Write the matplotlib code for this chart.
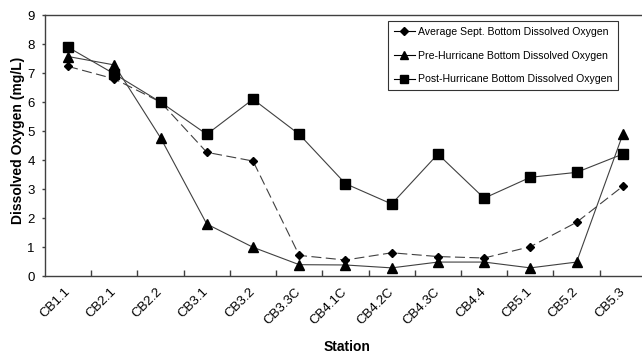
import matplotlib
matplotlib.use("Agg")
from matplotlib import pyplot as plt
from matplotlib.lines import Line2D

stations = ["CB1.1", "CB2.1", "CB2.2", "CB3.1", "CB3.2", "CB3.3C", "CB4.1C",
            "CB4.2C", "CB4.3C", "CB4.4", "CB5.1", "CB5.2", "CB5.3"]
avgSept = [7.23, 6.80, 6.0, 4.27, 3.97, 0.72, 0.56, 0.81, 0.68, 0.63, 1.02, 1.86, 3.10]
preHurricane = [7.57, 7.28, 4.77, 1.80, 1.0, 0.40, 0.39, 0.29, 0.49, 0.49, 0.29, 0.49, 4.89]
postHurricane = [7.89, 6.97, 6.0, 4.89, 6.10, 4.89, 3.19, 2.49, 4.21, 2.69, 3.41, 3.58, 4.21]
labels = ["Average Sept. Bottom Dissolved Oxygen",
          "Pre-Hurricane Bottom Dissolved Oxygen",
          "Post-Hurricane Bottom Dissolved Oxygen"]

plt.rcParams['font.family'] = ['Liberation Sans', 'DejaVu Sans']

fig = plt.figure(figsize=(6.42, 3.54), dpi=100)
ax = fig.add_axes([0.0701, 0.2195, 0.936, 0.7381])

lineColor = '#404040'
x = list(range(len(stations)))
ax.plot(x, avgSept, color=lineColor, lw=0.8, dashes=(9, 4),
        marker='D', ms=4.5, mfc='black', mec='black')
ax.plot(x, preHurricane, color=lineColor, lw=0.8,
        marker='^', ms=6.5, mfc='black', mec='black')
ax.plot(x, postHurricane, color=lineColor, lw=0.8,
        marker='s', ms=7, mfc='black', mec='black')

ax.set_xlim(-0.5, len(stations) - 0.5)
ax.set_ylim(0, 9)
ax.set_yticks(range(0, 10))
# tick marks sit between categories, labels under the points
ax.set_xticks([i + 0.5 for i in range(len(stations))])
ax.set_xticklabels([])
ax.set_xticks(x, minor=True)
ax.set_xticklabels(stations, minor=True, rotation=45, ha='right', va='center',
                   rotation_mode='anchor', fontsize=9.5)
ax.tick_params(axis='x', which='major', direction='in', length=4,
               color=lineColor, width=1)
ax.tick_params(axis='x', which='minor', length=0, pad=10)
ax.tick_params(axis='y', direction='out', length=2.5, color=lineColor,
               width=1, labelsize=9.5, pad=5)

for side in ['left', 'bottom', 'top']:
    ax.spines[side].set_color(lineColor)
    ax.spines[side].set_linewidth(1)
ax.spines['right'].set_visible(False)

ax.set_ylabel('Dissolved Oxygen (mg/L)', fontsize=10, fontweight='bold')
ax.yaxis.set_label_coords(-0.045, 0.52)
ax.set_xlabel('Station', fontsize=10, fontweight='bold')
ax.xaxis.set_label_coords(0.503, -0.27)
ax.xaxis.label.set_va('center')
ax.yaxis.label.set_va('center')

handles = [
    Line2D([], [], color='black', lw=0.8, marker='D', ms=4, mfc='black'),
    Line2D([], [], color='black', lw=0.8, marker='^', ms=5.5, mfc='black'),
    Line2D([], [], color='black', lw=0.8, marker='s', ms=5.5, mfc='black'),
]
leg = ax.legend(handles, labels, loc='upper left', bbox_to_anchor=(0.571, 0.977),
                fontsize=7.6, frameon=True, fancybox=False, handlelength=2.0,
                handletextpad=0.3, labelspacing=1.3, borderpad=0.55,
                borderaxespad=0)
leg.get_frame().set_edgecolor('black')
leg.get_frame().set_linewidth(0.8)

fig.savefig('out.png', dpi=100)
